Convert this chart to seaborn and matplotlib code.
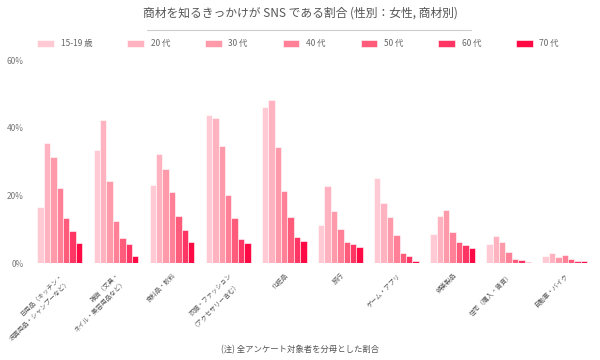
import matplotlib
matplotlib.use("Agg")
import matplotlib.pyplot as plt
import seaborn as sns
import pandas as pd

# 商材カテゴリ
categories = [
    "日用品（キッチン・\n洗面用品・シャンプーなど）",
    "雑貨（文具・\nネイル・美容用品など）",
    "食料品・飲料",
    "衣類・ファッション\n（アクセサリー含む）",
    "化粧品",
    "旅行",
    "ゲーム・アプリ",
    "娯楽製品",
    "住宅（購入・賃貸）",
    "自動車・バイク",
]
age_groups = ["15-19 歳", "20 代", "30 代", "40 代", "50 代", "60 代", "70 代"]

# 年代ごとの割合 (%), 図から読み取り
age_15_19 = [16.6, 33.5, 23.0, 43.9, 46.0, 11.4, 25.2, 8.7, 5.7, 2.0]
age_20s   = [35.6, 42.2, 32.3, 42.8, 48.2, 22.8, 17.8, 13.9, 8.1, 3.1]
age_30s   = [31.4, 24.3, 27.9, 34.5, 34.2, 15.4, 13.6, 15.8, 6.2, 1.8]
age_40s   = [22.3, 12.6, 21.0, 20.1, 21.2, 10.2, 8.2, 9.2, 3.3, 2.3]
age_50s   = [13.2, 7.5, 13.9, 13.2, 13.6, 6.3, 3.1, 6.2, 1.3, 1.3]
age_60s   = [9.4, 5.7, 9.7, 7.1, 7.7, 5.7, 2.0, 5.5, 1.0, 0.6]
age_70s   = [6.1, 2.0, 6.4, 6.1, 6.5, 4.8, 0.5, 4.6, 0.2, 0.5]

palette = ["#ffcad4", "#ffb3c0", "#ff9aab", "#ff8097", "#ff5c7c", "#ff3563", "#ff0a45"]

series = [age_15_19, age_20s, age_30s, age_40s, age_50s, age_60s, age_70s]
rows = []
for age, vals in zip(age_groups, series):
    for cat, v in zip(categories, vals):
        rows.append({"category": cat, "age": age, "value": v})
df = pd.DataFrame(rows)

sns.set_style("white")
plt.rcParams["font.family"] = ["Noto Sans CJK JP", "DejaVu Sans"]

fig = plt.figure(figsize=(6, 3.6), dpi=100)
ax = fig.add_axes([0.053, 0.269, 0.935, 0.564])

sns.barplot(
    data=df, x="category", y="value", hue="age",
    order=categories, hue_order=age_groups, palette=palette,
    width=0.8, edgecolor="white", linewidth=0.4, saturation=1, ax=ax,
)

ax.set_ylim(0, 60)
ax.set_xlim(-0.5, len(categories) - 0.5)
ax.set_yticks([0, 20, 40, 60])
ax.set_yticklabels(["0%", "20%", "40%", "60%"], fontsize=6, color="#777777")
ax.tick_params(axis="both", length=0, pad=6)
ax.set_xticks(range(len(categories)))
ax.set_xticklabels(categories, rotation=45, ha="right", rotation_mode="anchor",
                   fontsize=4.6, color="#555555")
ax.set_xlabel("")
ax.set_ylabel("")
for s in ax.spines.values():
    s.set_visible(False)

handles, labels = ax.get_legend_handles_labels()
ax.get_legend().remove()
fig.legend(handles, labels, loc="center", bbox_to_anchor=(0.497, 0.878), ncol=7,
           frameon=False, fontsize=6, handlelength=2.0, handleheight=1.0,
           columnspacing=4.2, handletextpad=0.8, labelcolor="#666666")

fig.text(0.5, 0.965, "商材を知るきっかけが SNS である割合 (性別：女性, 商材別)",
         ha="center", va="center", fontsize=8.5, color="#555555")
fig.add_artist(plt.Line2D([0.245, 0.785], [0.918, 0.918], color="#cccccc", lw=0.8))
fig.text(0.5, 0.028, "(注) 全アンケート対象者を分母とした割合",
         ha="center", va="center", fontsize=6, color="#555555")

fig.savefig("out.png", dpi=100)
